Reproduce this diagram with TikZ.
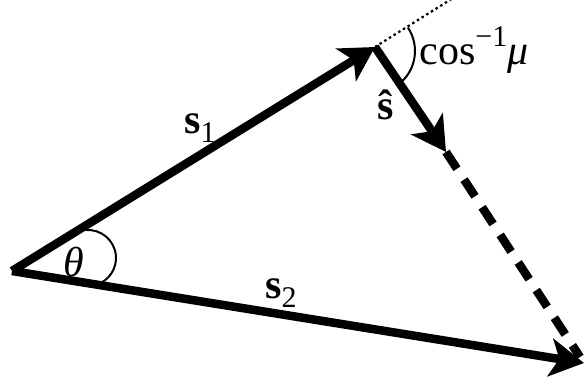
\documentclass[tikz,border=0pt]{standalone}
\usepackage{fontspec}
\setmainfont{Liberation Serif}
\usetikzlibrary{arrows.meta,calc}
\begin{document}
\begin{tikzpicture}[x=1pt,y=1pt,
  vec/.style={line width=8.5pt,-{Stealth[length=34pt,width=38pt,inset=9pt]}},
  thinarc/.style={line width=2pt},
  lbl/.style={inner sep=0pt,font=\fontsize{42}{46}\selectfont}]
\useasboundingbox (0,0) rectangle (584,385);
\coordinate (O) at (12,114);
\coordinate (A) at (375,338);
\coordinate (S) at (446,233);
\coordinate (B) at (584,22);
\coordinate (D) at (453,387);
\coordinate (E) at ($(B)+(-4,6)$);
\coordinate (C1) at (88,127);
\coordinate (C2) at (373,334);
\draw[thinarc] (C1) ++(95:28) arc[start angle=95,end angle=-72,radius=28];
\draw[thinarc] (C2) ++(34:42) arc[start angle=34,end angle=-50,radius=42];
\draw[line width=2.2pt,dash pattern=on 2.5pt off 3pt] (A) -- (D);
\draw[line width=8.5pt,dash pattern=on 20pt off 13pt] (S) -- (E);
\draw[vec] (O) -- (A);
\draw[vec] (O) -- (B);
\draw[vec] (A) -- (S);
\node[lbl] (th) at (74,123) {\textit{θ}};
\node[lbl] (l1) at (200,257) {\textbf{s}\raisebox{-0.2em}{\fontsize{30}{32}\selectfont 1}};
\node[lbl] (l2) at (281,92) {\textbf{s}\raisebox{-0.2em}{\fontsize{30}{32}\selectfont 2}};
\node[lbl] (lh) at (386,280) {\textbf{ŝ}};
\node[lbl] (lc) at (474,335) {cos\raisebox{0.42em}{\fontsize{30}{32}\selectfont −1}\textit{μ}};
\end{tikzpicture}
\end{document}
